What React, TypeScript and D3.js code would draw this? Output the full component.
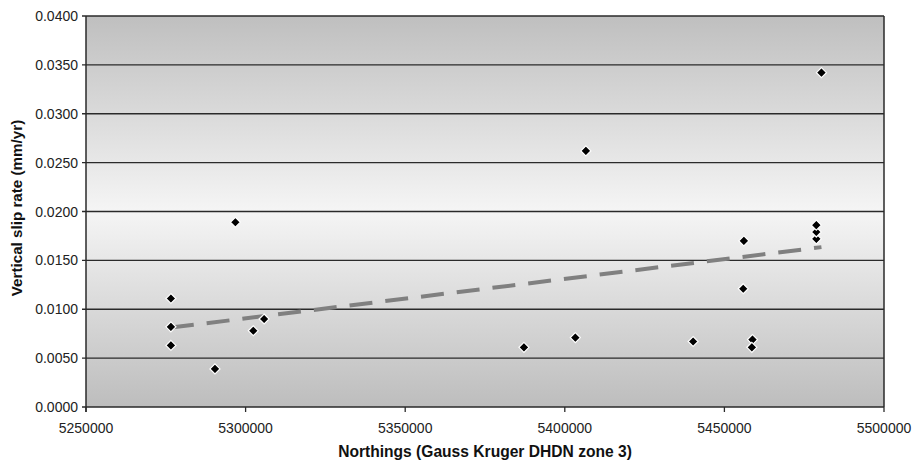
import React from "react";
import * as d3 from "d3";

const northings: number[] = [
  5276600, 5276600, 5276600, 5290400, 5296800, 5302400, 5305800,
  5387200, 5403300, 5406600, 5440200, 5455900, 5456100, 5458800,
  5458600, 5478800, 5478800, 5478800, 5480400,
];
const slipRates: number[] = [
  0.0111, 0.0082, 0.0063, 0.0039, 0.0189, 0.0078, 0.0090,
  0.0061, 0.0071, 0.0262, 0.0067, 0.0121, 0.0170, 0.0069,
  0.0061, 0.0172, 0.0179, 0.0186, 0.0342,
];
const xTicks: number[] = [5250000, 5300000, 5350000, 5400000, 5450000, 5500000];
const yTicks: number[] = [0, 0.005, 0.01, 0.015, 0.02, 0.025, 0.03, 0.035, 0.04];
const xTitle = "Northings (Gauss Kruger DHDN zone 3)";
const yTitle = "Vertical slip rate (mm/yr)";

const W = 913;
const H = 464;
const M = { left: 86, right: 884, top: 16, bottom: 407 };

export default function App() {
  const x = d3.scaleLinear().domain([5250000, 5500000]).range([M.left, M.right]);
  const y = d3.scaleLinear().domain([0, 0.04]).range([M.bottom, M.top]);

  // linear regression trend line
  const mx = d3.mean(northings) as number;
  const my = d3.mean(slipRates) as number;
  let sxy = 0;
  let sxx = 0;
  northings.forEach((n, i) => {
    sxy += (n - mx) * (slipRates[i] - my);
    sxx += (n - mx) * (n - mx);
  });
  const slope = sxy / sxx;
  const x0 = d3.min(northings) as number;
  const x1 = d3.max(northings) as number;
  const trend: [number, number][] = [
    [x0, my + slope * (x0 - mx)],
    [x1, my + slope * (x1 - mx)],
  ];
  const line = d3
    .line<[number, number]>()
    .x((d) => x(d[0]))
    .y((d) => y(d[1]));

  const diamond = (cx: number, cy: number, r: number) =>
    `M${cx},${cy - r}L${cx + r},${cy}L${cx},${cy + r}L${cx - r},${cy}Z`;

  const font = "Arial, 'Liberation Sans', sans-serif";

  return (
    <svg
      width={W}
      height={H}
      style={{ position: "absolute", left: 0, top: 0, background: "#fff" }}
    >
      <defs>
        <linearGradient id="bg" x1="0" y1="0" x2="0" y2="1">
          <stop offset="0" stopColor="#bfbfbf" />
          <stop offset="0.5" stopColor="#f5f5f5" />
          <stop offset="1" stopColor="#bdbdbd" />
        </linearGradient>
      </defs>
      <rect
        x={M.left}
        y={M.top}
        width={M.right - M.left}
        height={M.bottom - M.top}
        fill="url(#bg)"
      />
      {yTicks.map((t) => (
        <line
          key={"g" + t}
          x1={M.left - 4}
          x2={M.right}
          y1={y(t)}
          y2={y(t)}
          stroke="#2a2a2a"
          strokeWidth={1.3}
        />
      ))}
      {/* axes and right border */}
      <line x1={M.left} x2={M.left} y1={M.top} y2={M.bottom + 5} stroke="#2a2a2a" strokeWidth={1.5} />
      <line x1={M.right} x2={M.right} y1={M.top} y2={M.bottom} stroke="#2a2a2a" strokeWidth={1.5} />
      {xTicks.map((t) => (
        <line
          key={"xt" + t}
          x1={x(t)}
          x2={x(t)}
          y1={M.bottom}
          y2={M.bottom + 5}
          stroke="#2a2a2a"
          strokeWidth={1.3}
        />
      ))}
      {yTicks.map((t) => (
        <text
          key={"yl" + t}
          x={M.left - 8}
          y={y(t)}
          dy="0.36em"
          textAnchor="end"
          fontFamily={font}
          fontSize={14}
          fill="#222"
        >
          {d3.format(".4f")(t)}
        </text>
      ))}
      {xTicks.map((t) => (
        <text
          key={"xl" + t}
          x={x(t)}
          y={433}
          textAnchor="middle"
          fontFamily={font}
          fontSize={14}
          fill="#222"
        >
          {t}
        </text>
      ))}
      <path
        d={line(trend) || ""}
        fill="none"
        stroke="#808080"
        strokeWidth={4}
        strokeDasharray="23 13"
      />
      {northings.map((n, i) => (
        <path
          key={"p" + i}
          d={diamond(x(n), y(slipRates[i]), 5)}
          fill="#000"
          stroke="#fff"
          strokeWidth={1.2}
        />
      ))}
      <text
        x={(M.left + M.right) / 2}
        y={457}
        textAnchor="middle"
        fontFamily={font}
        fontSize={15.6}
        fontWeight="bold"
        fill="#111"
      >
        {xTitle}
      </text>
      <text
        transform={`translate(22,208) rotate(-90)`}
        textAnchor="middle"
        fontFamily={font}
        fontSize={15.2}
        fontWeight="bold"
        fill="#111"
      >
        {yTitle}
      </text>
    </svg>
  );
}
